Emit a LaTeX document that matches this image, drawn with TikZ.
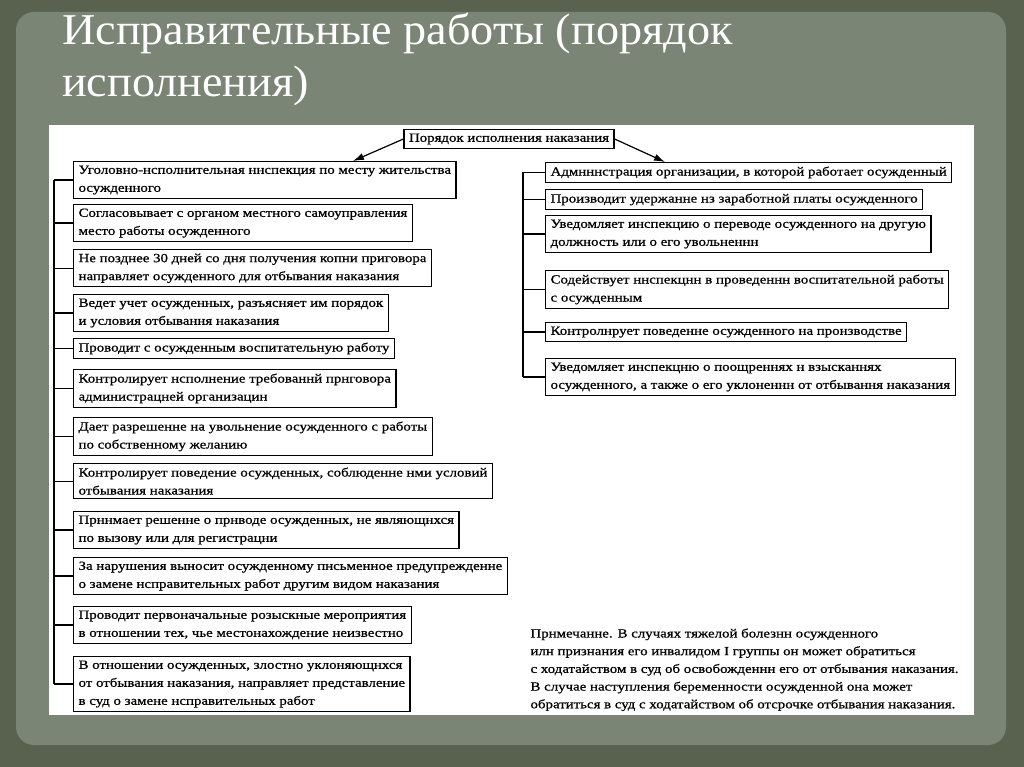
\documentclass[tikz,border=0pt]{standalone}
\usepackage{fontspec}
\setmainfont{Liberation Serif}
\newfontfamily\boxfont{Liberation Serif}[FakeStretch=1.19, FakeBold=0.8]
\newfontfamily\titlefont{Liberation Serif}[FakeStretch=1.05]
\usetikzlibrary{arrows.meta}

\definecolor{frame}{HTML}{58624F}
\definecolor{paper}{HTML}{7B8575}

\tikzset{
  box/.style={draw, line width=1.2pt, rectangle, anchor=north west, inner xsep=5pt, inner ysep=4pt,
    align=left, fill=white, font=\boxfont\fontsize{12.5}{18}\selectfont},
  link/.style={draw, line width=1.2pt},
  pointer/.style={draw, line width=1.2pt, -{Latex[length=11pt,width=7pt]}}
}

\begin{document}
\begin{tikzpicture}[x=1pt,y=-1pt]
\useasboundingbox (0,0) rectangle (1024,767);
\fill[frame] (0,0) rectangle (1024,767);
\fill[paper, rounded corners=18pt] (16,12) rectangle (1006,745);
\fill[white] (49,125) rectangle (974,715);

\node[anchor=base west, align=left, text=white, inner sep=0pt,
  font=\titlefont\fontsize{44}{52}\selectfont] (title) at (62,97)
{Исправительные работы (порядок\\исполнения)};

\node[box, anchor=center] (top) at (509,139)
{Порядок исполнения наказания};

% left column
\node[box] (l1) at (73,161)
{Уголовно-нсполнительная ннспекция по месту жительства\\осужденного};
\node[box] (l2) at (73,204)
{Согласовывает с органом местного самоуправления\\место работы осужденного};
\node[box] (l3) at (73,249)
{Не позднее 30 дней со дня получения копни приговора\\направляет осужденного для отбывания наказания};
\node[box] (l4) at (73,294)
{Ведет учет осужденных, разъясняет им порядок\\и условия отбывання наказания};
\node[box] (l5) at (73,338)
{Проводит с осужденным воспитательную работу};
\node[box] (l6) at (73,369)
{Контролирует нсполнение требованнй прнговора\\администрацней организацин};
\node[box] (l7) at (73,417)
{Дает разрешенне на увольнение осужденного с работы\\по собственному желанию};
\node[box] (l8) at (73,463)
{Контролирует поведение осужденных, соблюденне нми условий\\отбывания наказания};
\node[box] (l9) at (73,511)
{Прннмает решенне о прнводе осужденных, не являющнхся\\по вызову или для регистрацни};
\node[box] (l10) at (73,557)
{За нарушения выносит осужденному пнсьменное предупрежденне\\о замене нсправительных работ другим видом наказания};
\node[box] (l11) at (73,606)
{Проводит первоначальные розыскные мероприятия\\в отношении тех, чье местонахождение неизвестно};
\node[box] (l12) at (73,656)
{В отношении осужденных, злостно уклоняющнхся\\от отбывания наказания, направляет представление\\в суд о замене нсправительных работ};

\coordinate (lbus) at (54,0);
\foreach \n in {l1,l2,l3,l4,l5,l6,l7,l8,l9,l10,l11,l12}
  \path[link] (\n.west) -- (\n.west -| lbus);
\path[link] (l1.west -| lbus) -- (l12.west -| lbus);

% right column
\node[box] (r1) at (545,162)
{Адмнннстрация организации, в которой работает осужденный};
\node[box] (r2) at (545,189)
{Производит удержанне нз заработной платы осужденного};
\node[box] (r3) at (545,215)
{Уведомляет инспекцию о переводе осужденного на другую\\должность или о его увольненнн};
\node[box] (r4) at (545,270)
{Содействует ннспекцнн в проведеннн воспитательной работы\\с осужденным};
\node[box] (r5) at (545,322)
{Контролнрует поведенне осужденного на пронзводстве};
\node[box] (r6) at (545,358)
{Уведомляет инспекцню о поощреннях н взысканнях\\осужденного, а также о его уклоненнн от отбывання наказания};

\coordinate (rbus) at (523,0);
\foreach \n in {r1,r2,r3,r4,r5,r6}
  \path[link] (\n.west) -- (\n.west -| rbus);
\path[link] (r1.west -| rbus) -- (r6.west -| rbus);

\path[pointer] (top.west) -- ([xshift=280pt]l1.north west);
\path[pointer] (top.east) -- ([xshift=120pt]r1.north west);

% note
\node[anchor=north west, align=left, font=\boxfont\fontsize{12.5}{17.7}\selectfont] (note) at (527,625)
{Прнмечанне. В случаях тяжелой болезнн осужденного\\
илн признания его инвалидом I группы он может обратиться\\
с ходатайством в суд об освобожденнн его от отбывания наказания.\\
В случае наступления беременности осужденной она может\\
обратиться в суд с ходатайством об отсрочке отбывания наказания.};
\end{tikzpicture}
\end{document}
